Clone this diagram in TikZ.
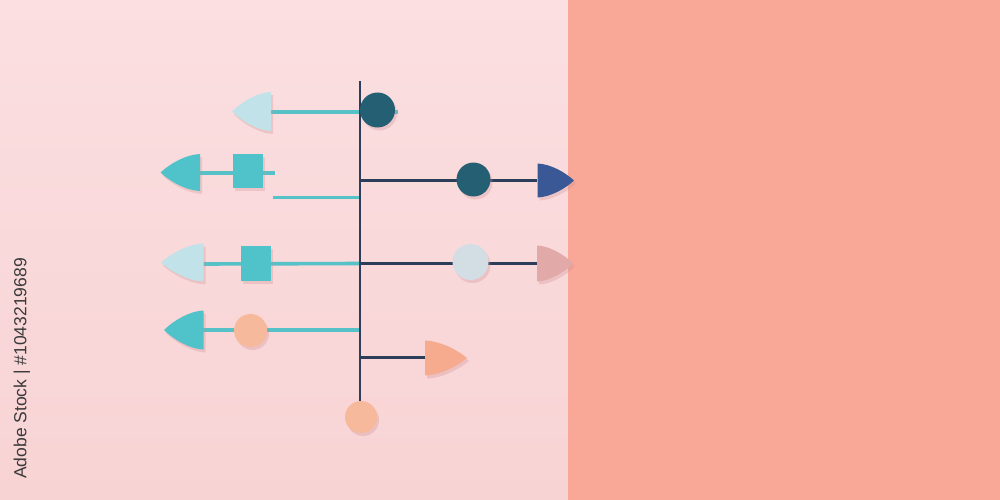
\documentclass[tikz,border=0pt]{standalone}
\usepackage{fontspec}
\setmainfont{Liberation Sans}
\usetikzlibrary{shadows}
\definecolor{bgpink}{HTML}{F8D3D4}
\definecolor{bgpinklt}{HTML}{FBDFE1}
\definecolor{bgsalmon}{HTML}{F9A898}
\definecolor{navyline}{HTML}{2C3E5A}
\definecolor{cyanline}{HTML}{56C2C7}
\definecolor{darkteal}{HTML}{255F73}
\definecolor{lightblue}{HTML}{C0E2E8}
\definecolor{cyanfill}{HTML}{4FC3C9}
\definecolor{navyblue}{HTML}{3A5796}
\definecolor{palecirc}{HTML}{D2DEE4}
\definecolor{pinkarrow}{HTML}{E2A9A9}
\definecolor{peachcirc}{HTML}{F7B99C}
\definecolor{peacharrow}{HTML}{F6AA8E}
\definecolor{shadowc}{HTML}{D08E90}
\definecolor{txtc}{HTML}{3A3A3A}
% arrowhead: #1 colour, #2 back x, #3 tip x, #4 centre y, #5 half height
\newcommand{\arrowhead}[5]{%
  \fill[#1, shd] (#2,{#4-#5})
    .. controls ({#2+0.35*(#3-#2)},{#4-0.97*#5}) and ({#2+0.75*(#3-#2)},{#4-0.5*#5}) .. (#3,#4)
    .. controls ({#2+0.75*(#3-#2)},{#4+0.5*#5}) and ({#2+0.35*(#3-#2)},{#4+0.97*#5}) .. (#2,{#4+#5})
    -- cycle;}
\begin{document}
\begin{tikzpicture}[x=1pt,y=-1pt,
  shd/.style={drop shadow={shadow xshift=2pt, shadow yshift=-3pt, fill=shadowc, opacity=0.3}},
  cyanl/.style={draw=cyanline, line width=3.6pt},
  navyl/.style={draw=navyline, line width=2.8pt},
  disc/.style={circle, inner sep=0pt, shd, fill=#1},
  sq/.style={rectangle, inner sep=0pt, shd, fill=cyanfill, minimum width=30pt, minimum height=34pt}]
\useasboundingbox (0,0) rectangle (1000,500);
\shade[top color=bgpinklt, bottom color=bgpink] (0,0) rectangle (568,500);
\fill[bgsalmon] (568,0) rectangle (1000,500);

% named points
\coordinate (S0) at (360,81);
\coordinate (s1) at (360,112);
\coordinate (s2) at (360,180.5);
\coordinate (s3) at (360,197.5);
\coordinate (s4) at (360,263.5);
\coordinate (s5) at (360,330);
\coordinate (s6) at (360,357.5);
\coordinate (e1) at (398,112);
\coordinate (e2) at (275,173);
\coordinate (e3) at (273,197.5);
\coordinate (b1) at (271,112);
\coordinate (b2) at (200,173);
\coordinate (b3) at (203,264);
\coordinate (b4) at (203,330);
\coordinate (b5) at (537,180.5);
\coordinate (b6) at (537,263.5);
\coordinate (b7) at (425,357.5);

% connectors
\draw[cyanl] (e1) -- (b1);
\draw[cyanl] (b2) -- (e2);
\draw[cyanl] (s3) -- (e3);
\draw[cyanl] (s4) -- (b3);
\draw[cyanl] (s5) -- (b4);
\draw[navyl] (s2) -- (b5);
\draw[navyl] (s4) -- (b6);
\draw[navyl] (s6) -- (b7);
\draw[navyl] (S0) -- (360,404);

% arrowheads
\arrowhead{lightblue}{271}{232}{111.5}{19.5}
\arrowhead{cyanfill}{200}{160.5}{172.5}{18.5}
\arrowhead{lightblue}{203.5}{161}{262.5}{19}
\arrowhead{cyanfill}{203.5}{164}{330}{19.5}
\arrowhead{navyblue}{537.5}{574}{180.5}{17}
\arrowhead{pinkarrow}{537}{573}{263.5}{18}
\arrowhead{peacharrow}{425}{467}{358}{17.5}

% shapes on the lines
\node[disc=darkteal, minimum size=35pt] (c1) at (377.5,110) {};
\node[sq] (q1) at (248,170.5) {};
\node[disc=darkteal, minimum size=34pt] (c2) at (473.5,179.5) {};
\node[sq, minimum height=35pt] (q2) at (256,263.5) {};
\node[disc=palecirc, minimum size=36pt] (c3) at (470.5,262) {};
\node[disc=peachcirc, minimum size=33pt] (c4) at (250.5,330.5) {};
\node[disc=peachcirc, minimum size=32pt] (c5) at (361,417) {};

% vertical credit text
\node[rotate=90, text=txtc, font=\fontsize{17.5}{17.5}\selectfont, inner sep=0pt] (wm) at (22,368.5) {Adobe Stock | \#1043219689};
\end{tikzpicture}
\end{document}
